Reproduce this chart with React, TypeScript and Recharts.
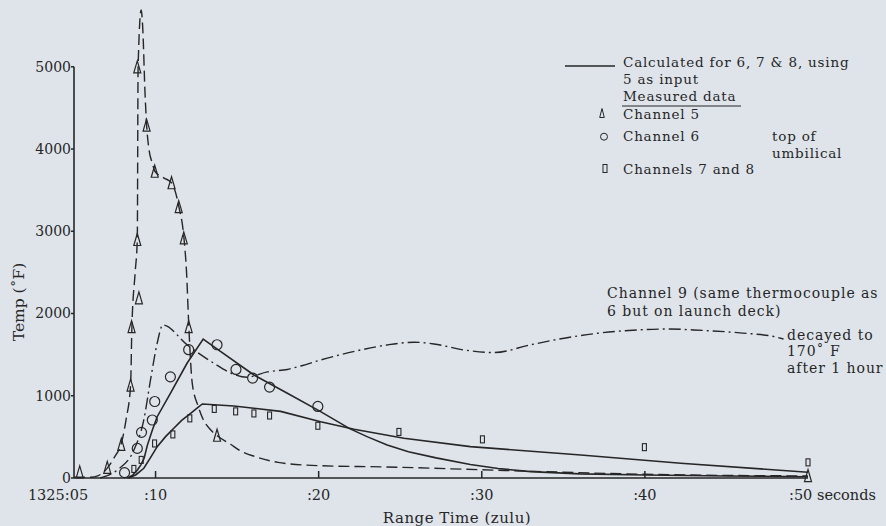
import React from 'react';
import { ComposedChart, Line, Scatter, XAxis, YAxis, ReferenceLine } from 'recharts';

// ---------- data (time in seconds after 1325:00, temperature in °F) ----------
const xTicks = [5, 10, 20, 30, 40, 50];
const xTickLabels = ['1325:05', ':10', ':20', ':30', ':40', ':50 seconds'];
const yTicks = [0, 1000, 2000, 3000, 4000, 5000];

const channel5Measured: [number, number][] = [
  [5.35, 75], [7.04, 130], [7.9, 410], [8.47, 1130], [8.53, 1840], [8.88, 2900],
  [8.98, 2190], [8.88, 5000], [9.45, 4290], [9.95, 3730], [10.98, 3590],
  [11.42, 3300], [11.73, 2920], [12.03, 1840], [13.77, 520], [50, 30],
];

const channel6Measured: [number, number][] = [
  [8.1, 65], [8.88, 360], [9.14, 555], [9.8, 705], [9.95, 930], [10.91, 1230],
  [12.03, 1560], [13.77, 1620], [14.93, 1320], [15.95, 1215], [16.99, 1105], [19.95, 870],
];

const channels78Measured: [number, number][] = [
  [8.67, 110], [9.12, 220], [9.94, 420], [11.06, 530], [12.1, 725], [13.6, 840],
  [14.91, 810], [16.03, 785], [16.99, 760], [19.95, 635], [24.92, 560],
  [30.04, 470], [39.97, 375], [50, 190],
];

const channel5Curve: [number, number][] = [
  [5, 10], [6, 10], [6.5, 30], [7.04, 120], [7.5, 260], [7.9, 420], [8.2, 720],
  [8.47, 1130], [8.55, 1840], [8.75, 2500], [8.88, 2900], [8.93, 5000], [9.12, 5690],
  [9.22, 5450], [9.35, 4700], [9.45, 4300], [9.6, 3990], [9.8, 3830], [9.96, 3730],
  [10.5, 3650], [10.98, 3590], [11.43, 3300], [11.74, 2920], [11.9, 2500],
  [12.04, 1840], [12.25, 1150], [12.6, 880], [12.9, 720], [13.4, 580], [13.8, 510],
  [14.6, 410], [15.2, 330], [16.1, 260], [17.5, 190], [20, 150], [24, 135],
  [30, 100], [35, 70], [40, 45], [50, 25],
];

const channel9Curve: [number, number][] = [
  [6.6, 0], [7.65, 97], [8.67, 340], [9.28, 706], [9.69, 1192], [10.1, 1639],
  [10.45, 1861], [11.94, 1618], [13.58, 1395], [14.8, 1260], [15.6, 1225],
  [16.85, 1290], [18.08, 1320], [18.9, 1362], [20.12, 1435], [22.58, 1557],
  [24.2, 1618], [25.85, 1651], [27.07, 1630], [28.9, 1557], [30.75, 1525],
  [33, 1620], [35.05, 1700], [37.1, 1760], [39.5, 1800], [41.5, 1812],
  [43, 1800], [46, 1762], [47.9, 1720], [48.5, 1690],
];

const calculated6: [number, number][] = [
  [8.27, 0], [8.6, 35], [8.9, 100], [9.1, 160], [9.3, 240], [9.5, 400], [9.8, 580],
  [10.1, 745], [10.91, 1030], [11.93, 1395], [12.92, 1690], [14.0, 1537],
  [16.03, 1253], [18.08, 1030], [20.12, 807], [21.9, 600], [23, 500], [24.2, 400],
  [25.5, 320], [27.2, 245], [29.3, 165], [31, 115], [33, 78], [36, 50], [40, 37],
  [45, 25], [50, 15],
];

const calculated78: [number, number][] = [
  [8.36, 0], [8.8, 40], [9.28, 118], [9.7, 250], [10.1, 381], [10.6, 500],
  [11.12, 605], [11.6, 700], [12.15, 787], [12.6, 860], [12.87, 900], [14.8, 876],
  [17.67, 810], [20.12, 685], [22.17, 592], [25.23, 483], [29.3, 381],
  [36.07, 280], [42.2, 179], [50, 70],
];

// ---------- styling ----------
const FONT = "'DejaVu Serif', 'Liberation Serif', serif";
const INK = '#262626';
const BG = '#dfe4eb';

const toPts = (arr: [number, number][]) => arr.map(([t, v]) => ({ t, v }));

const Triangle = (p: any) => {
  const { cx, cy } = p;
  if (cx == null || cy == null) return <g />;
  return (
    <path
      d={`M${cx},${cy - 6} L${cx + 3.5},${cy + 6} L${cx - 3.5},${cy + 6} Z`}
      fill="none"
      stroke={INK}
      strokeWidth={1.2}
    />
  );
};

const Circ = (p: any) => {
  const { cx, cy } = p;
  if (cx == null || cy == null) return <g />;
  return <circle cx={cx} cy={cy} r={5} fill="none" stroke={INK} strokeWidth={1.2} />;
};

const Rect = (p: any) => {
  const { cx, cy } = p;
  if (cx == null || cy == null) return <g />;
  return <rect x={cx - 2} y={cy - 3.5} width={4} height={7} fill="none" stroke={INK} strokeWidth={1.1} />;
};

const XTick = (props: any) => {
  const { x, y, payload } = props;
  const v = payload.value;
  const label = xTickLabels[xTicks.indexOf(v)];
  let tx = x;
  let anchor: 'middle' | 'start' = 'middle';
  if (v === 5) tx = x - 16;
  if (v === 50) {
    tx = x - 19;
    anchor = 'start';
  }
  return (
    <g>
      {v !== 5 && v !== 50 && (
        <line x1={x} x2={x} y1={y} y2={y - 7} stroke={INK} strokeWidth={1.5} />
      )}
      <text x={tx} y={y + 22} textAnchor={anchor} fill={INK} fontSize={14.5} fontFamily={FONT}>
        {label}
      </text>
    </g>
  );
};

const lineCommon = {
  dataKey: 'v',
  stroke: INK,
  dot: false,
  activeDot: false,
  isAnimationActive: false,
  legendType: 'none' as const,
};

export default function App() {
  return (
    <div style={{ position: 'absolute', left: 0, top: 0, width: 886, height: 526, background: BG }}>
      <ComposedChart width={886} height={526} margin={{ top: 1, right: 78, bottom: 8, left: 0 }}>
        <XAxis
          type="number"
          dataKey="t"
          domain={[5, 50]}
          ticks={xTicks}
          interval={0}
          height={40}
          tickSize={0}
          tickMargin={0}
          tickLine={false}
          axisLine={{ stroke: INK, strokeWidth: 1.6 }}
          tick={<XTick />}
        />
        <YAxis
          type="number"
          dataKey="v"
          domain={[0, 5800]}
          ticks={yTicks}
          interval={0}
          width={74}
          axisLine={false}
          tickSize={3}
          tickMargin={0}
          tickLine={{ stroke: INK, strokeWidth: 1.5 }}
          tick={{ fill: INK, fontSize: 14, fontFamily: FONT }}
        />
        <ReferenceLine
          segment={[{ x: 5, y: 0 }, { x: 5, y: 5000 }]}
          stroke={INK}
          strokeWidth={1.6}
        />
        <Line {...lineCommon} data={toPts(channel5Curve)} type="monotoneX" strokeWidth={1.4} strokeDasharray="11 5" />
        <Line {...lineCommon} data={toPts(channel9Curve)} type="monotoneX" strokeWidth={1.4} strokeDasharray="12 4 2 4" />
        <Line {...lineCommon} data={toPts(calculated6)} type="linear" strokeWidth={1.6} />
        <Line {...lineCommon} data={toPts(calculated78)} type="linear" strokeWidth={1.6} />
        <Scatter data={toPts(channel5Measured)} dataKey="v" shape={Triangle} isAnimationActive={false} legendType="none" />
        <Scatter data={toPts(channel6Measured)} dataKey="v" shape={Circ} isAnimationActive={false} legendType="none" />
        <Scatter data={toPts(channels78Measured)} dataKey="v" shape={Rect} isAnimationActive={false} legendType="none" />
      </ComposedChart>

      <svg
        width={886}
        height={526}
        style={{ position: 'absolute', left: 0, top: 0, pointerEvents: 'none' }}
        fontFamily={FONT}
        fill={INK}
      >
        {/* legend */}
        <line x1={565} x2={615} y1={66} y2={66} stroke={INK} strokeWidth={1.5} />
        <g fontSize={13.5} letterSpacing={0.8}>
          <text x={623} y={67}>Calculated for 6, 7 &amp; 8, using</text>
          <text x={623} y={84}>5 as input</text>
          <text x={623} y={101}>Measured data</text>
          <line x1={622} x2={741} y1={106} y2={106} stroke={INK} strokeWidth={1} />
          <text x={623} y={119}>Channel 5</text>
          <text x={623} y={141}>Channel 6</text>
          <text x={772} y={141}>top of</text>
          <text x={772} y={158}>umbilical</text>
          <text x={623} y={174}>Channels 7 and 8</text>
        </g>
        <path d="M602,108.5 L604.3,117.5 L599.7,117.5 Z" fill="none" stroke={INK} strokeWidth={1} />
        <circle cx={604} cy={136.7} r={3.5} fill="none" stroke={INK} strokeWidth={1} />
        <rect x={603} y={164.5} width={4} height={8} fill="none" stroke={INK} strokeWidth={1} />

        {/* annotations */}
        <g fontSize={14} letterSpacing={0.95}>
          <text x={607} y={298}>Channel 9 (same thermocouple as</text>
          <text x={607} y={316}>6 but on launch deck)</text>
          <text x={787} y={340}>decayed to</text>
          <text x={787} y={356}>170˚ F</text>
          <text x={787} y={373}>after 1 hour</text>
        </g>

        {/* axis titles */}
        <text x={457} y={523} textAnchor="middle" fontSize={15} letterSpacing={0.5}>Range Time (zulu)</text>
        <text
          x={24}
          y={302}
          textAnchor="middle"
          fontSize={15.5}
          transform="rotate(-90 24 302)"
        >
          Temp (˚F)
        </text>
      </svg>
    </div>
  );
}
